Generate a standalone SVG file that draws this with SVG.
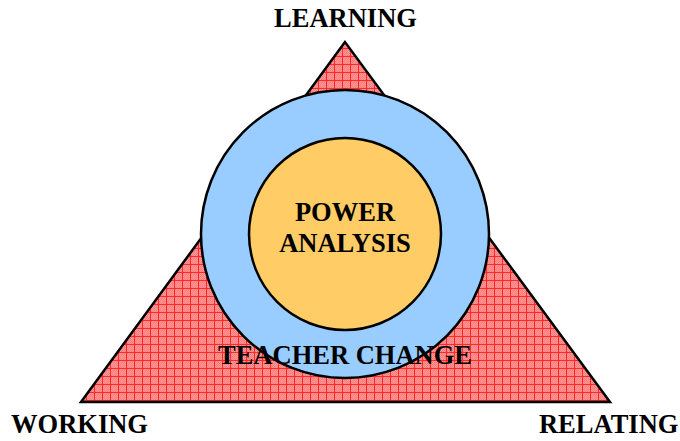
<svg xmlns="http://www.w3.org/2000/svg" width="680" height="441" viewBox="0 0 680 441">
  <defs>
    <pattern id="dither" x="0" y="0" width="2" height="2" patternUnits="userSpaceOnUse">
      <rect width="2" height="2" fill="#ff9a9a"/>
      <rect width="1" height="1" fill="#ff7878"/>
      <rect x="1" y="1" width="1" height="1" fill="#ff7878"/>
    </pattern>
    <pattern id="grid" x="6" y="0" width="8" height="8" patternUnits="userSpaceOnUse">
      <rect width="8" height="8" fill="url(#dither)"/>
      <path d="M0.5 0V8M0 0.5H8" stroke="#ff2a2a" stroke-width="1" fill="none"/>
    </pattern>
    <style>
      .lbl { font-family: "Liberation Serif", "Times New Roman", serif; font-weight: bold; font-size: 26.5px; fill: #000; text-anchor: middle; }
      .edge { stroke: #000; stroke-width: 2.5; }
    </style>
  </defs>
  <rect width="680" height="441" fill="#fff"/>
  <g id="triangle">
    <polygon class="edge" points="345,42 81,402 610,402" fill="url(#grid)" stroke-linejoin="miter"/>
  </g>
  <g id="teacher-change">
    <circle class="edge" cx="345" cy="234" r="144" fill="#99ccff"/>
  </g>
  <g id="power-analysis">
    <circle class="edge" cx="345" cy="234" r="96" fill="#ffcc66" stroke-width="2"/>
    <text class="lbl" x="345" y="221">POWER</text>
    <text class="lbl" x="345" y="252">ANALYSIS</text>
  </g>
  <g id="teacher-change-label">
    <text class="lbl" x="345" y="364">TEACHER CHANGE</text>
  </g>
  <g id="learning">
    <text class="lbl" x="345.5" y="27">LEARNING</text>
  </g>
  <g id="working">
    <text class="lbl" x="79.5" y="433">WORKING</text>
  </g>
  <g id="relating">
    <text class="lbl" x="608.7" y="433">RELATING</text>
  </g>
  <g id="connectors"></g>
</svg>
